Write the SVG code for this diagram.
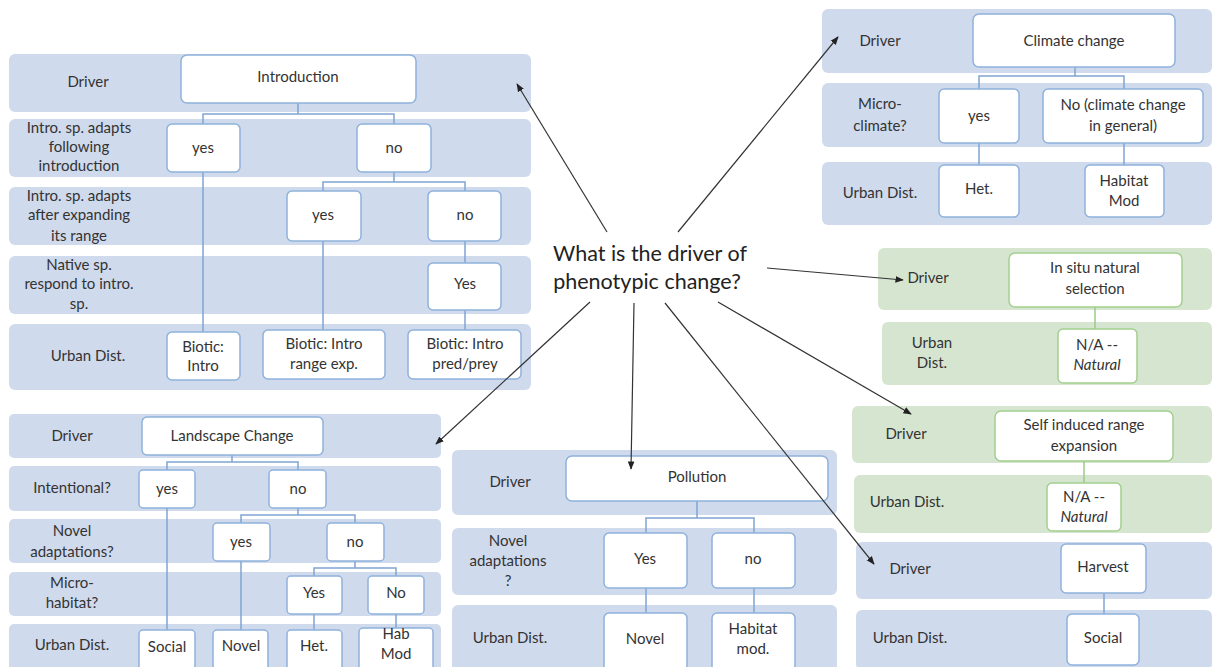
<svg xmlns="http://www.w3.org/2000/svg" width="1212" height="667" viewBox="0 0 1212 667">
<defs>
<style>
.band{fill:#d0daed;}
.gband{fill:#d6e5d0;}
.box{fill:#fff;stroke:#8fb2dc;stroke-width:1.5;}
.gbox{fill:#fff;stroke:#a3d08f;stroke-width:1.5;}
.tree{fill:none;stroke:#7fa5d2;stroke-width:1.5;}
.gtree{fill:none;stroke:#9cc98a;stroke-width:1.5;}
text{font-family:Lato,"Open Sans","Liberation Sans",sans-serif;font-size:15px;fill:#333;text-anchor:middle;}
.big{font-size:21.5px;fill:#222;}
.arr{stroke:#333;stroke-width:1.2;fill:none;marker-end:url(#ah);}
</style>
<marker id="ah" viewBox="0 0 10 10" refX="9" refY="5" markerWidth="7" markerHeight="7" orient="auto"><path d="M0,1 L10,5 L0,9 z" fill="#222"/></marker>
</defs>
<rect width="1212" height="667" fill="#fff"/>

<!-- Introduction block -->
<g id="intro-block">
<rect class="band" x="9" y="54" width="522" height="58" rx="6"/>
<rect class="band" x="9" y="119" width="522" height="58" rx="6"/>
<rect class="band" x="9" y="187" width="522" height="58" rx="6"/>
<rect class="band" x="9" y="256" width="522" height="58" rx="6"/>
<rect class="band" x="9" y="324" width="522" height="66" rx="6"/>
<text x="88" y="87">Driver</text>
<text x="79" y="133">Intro. sp. adapts</text><text x="79" y="152">following</text><text x="79" y="171">introduction</text>
<text x="79" y="201">Intro. sp. adapts</text><text x="79" y="220">after expanding</text><text x="79" y="241">its range</text>
<text x="79" y="270">Native sp.</text><text x="79" y="289">respond to intro.</text><text x="79" y="309">sp.</text>
<text x="88" y="361">Urban Dist.</text>
</g>
<g id="intro-tree">
<path class="tree" d="M298,103 V114 M203,124 V114 H394 V124 M394,172 V182 M323,191 V182 H465 V191 M465,241 V263 M203,172 V332 M323,241 V330 M465,310 V330"/>
</g>
<g id="n-introduction"><rect class="box" x="181" y="55" width="235" height="48" rx="6"/><text x="298" y="82">Introduction</text></g>
<g id="n-intro-yes"><rect class="box" x="167" y="124" width="73" height="48" rx="5"/><text x="203" y="153">yes</text></g>
<g id="n-intro-no"><rect class="box" x="357" y="124" width="74" height="48" rx="5"/><text x="394" y="153">no</text></g>
<g id="n-intro-yes2"><rect class="box" x="287" y="191" width="74" height="50" rx="5"/><text x="323" y="220">yes</text></g>
<g id="n-intro-no2"><rect class="box" x="428" y="191" width="73" height="50" rx="5"/><text x="465" y="220">no</text></g>
<g id="n-intro-yes3"><rect class="box" x="428" y="263" width="73" height="47" rx="5"/><text x="465" y="289">Yes</text></g>
<g id="n-biotic-intro"><rect class="box" x="167" y="332" width="73" height="48" rx="5"/><text x="203" y="352">Biotic:</text><text x="203" y="371">Intro</text></g>
<g id="n-biotic-range"><rect class="box" x="263" y="330" width="122" height="49" rx="5"/><text x="324" y="349">Biotic: Intro</text><text x="324" y="369">range exp.</text></g>
<g id="n-biotic-pred"><rect class="box" x="408" y="330" width="113" height="49" rx="5"/><text x="465" y="349">Biotic: Intro</text><text x="465" y="369">pred/prey</text></g>

<!-- Climate block -->
<g id="climate-block">
<rect class="band" x="822" y="9" width="390" height="64" rx="6"/>
<rect class="band" x="822" y="83" width="390" height="64" rx="6"/>
<rect class="band" x="822" y="162" width="390" height="63" rx="6"/>
<text x="880" y="46">Driver</text>
<text x="880" y="109">Micro-</text><text x="880" y="131">climate?</text>
<text x="880" y="198">Urban Dist.</text>
</g>
<g id="climate-tree"><path class="tree" d="M1075,67 V76 M979,89 V76 H1124 V89 M979,143 V165 M1124,143 V165"/></g>
<g id="n-climate"><rect class="box" x="973" y="14" width="202" height="53" rx="6"/><text x="1074" y="46">Climate change</text></g>
<g id="n-climate-yes"><rect class="box" x="939" y="89" width="80" height="54" rx="5"/><text x="979" y="121">yes</text></g>
<g id="n-climate-no"><rect class="box" x="1043" y="89" width="160" height="54" rx="5"/><text x="1123" y="110">No (climate change</text><text x="1123" y="131">in general)</text></g>
<g id="n-climate-het"><rect class="box" x="939" y="165" width="80" height="52" rx="5"/><text x="979" y="194">Het.</text></g>
<g id="n-climate-hab"><rect class="box" x="1085" y="165" width="79" height="52" rx="5"/><text x="1124" y="186">Habitat</text><text x="1124" y="206">Mod</text></g>

<!-- In situ block -->
<g id="insitu-block">
<rect class="gband" x="878" y="248" width="334" height="62" rx="6"/>
<rect class="gband" x="882" y="322" width="330" height="63" rx="6"/>
<text x="928" y="283">Driver</text>
<text x="932" y="348">Urban</text><text x="932" y="368">Dist.</text>
</g>
<g id="insitu-tree"><path class="gtree" d="M1095,307 V329"/></g>
<g id="n-insitu"><rect class="gbox" x="1009" y="253" width="173" height="54" rx="6"/><text x="1095" y="273">In situ natural</text><text x="1095" y="294">selection</text></g>
<g id="n-insitu-na"><rect class="gbox" x="1058" y="329" width="79" height="54" rx="5"/><text x="1097" y="350">N/A --</text><text x="1097" y="370" font-style="italic">Natural</text></g>

<!-- Self induced block -->
<g id="self-block">
<rect class="gband" x="852" y="406" width="360" height="57" rx="6"/>
<rect class="gband" x="854" y="475" width="358" height="58" rx="6"/>
<text x="906" y="439">Driver</text>
<text x="907" y="507">Urban Dist.</text>
</g>
<g id="self-tree"><path class="gtree" d="M1084,461 V483"/></g>
<g id="n-self"><rect class="gbox" x="995" y="411" width="178" height="50" rx="6"/><text x="1084" y="430">Self induced range</text><text x="1084" y="451">expansion</text></g>
<g id="n-self-na"><rect class="gbox" x="1047" y="483" width="74" height="48" rx="5"/><text x="1084" y="502">N/A --</text><text x="1084" y="522" font-style="italic">Natural</text></g>

<!-- Harvest block -->
<g id="harvest-block">
<rect class="band" x="856" y="542" width="356" height="57" rx="6"/>
<rect class="band" x="856" y="610" width="356" height="60" rx="6"/>
<text x="910" y="574">Driver</text>
<text x="910" y="643">Urban Dist.</text>
</g>
<g id="harvest-tree"><path class="tree" d="M1104,593 V614"/></g>
<g id="n-harvest"><rect class="box" x="1061" y="544" width="85" height="49" rx="5"/><text x="1103" y="572">Harvest</text></g>
<g id="n-harvest-social"><rect class="box" x="1067" y="614" width="72" height="51" rx="5"/><text x="1103" y="643">Social</text></g>

<!-- Landscape block -->
<g id="landscape-block">
<rect class="band" x="9" y="414" width="432" height="44" rx="5"/>
<rect class="band" x="9" y="466" width="432" height="45" rx="5"/>
<rect class="band" x="9" y="519" width="432" height="44" rx="5"/>
<rect class="band" x="9" y="572" width="432" height="44" rx="5"/>
<rect class="band" x="9" y="624" width="432" height="50" rx="5"/>
<text x="72" y="441">Driver</text>
<text x="72" y="493">Intentional?</text>
<text x="72" y="536">Novel</text><text x="72" y="557">adaptations?</text>
<text x="72" y="588">Micro-</text><text x="72" y="608">habitat?</text>
<text x="72" y="650">Urban Dist.</text>
</g>
<g id="landscape-tree"><path class="tree" d="M232,455 V462 M167,470 V462 H298 V470 M298,508 V515 M241,523 V515 H355 V523 M355,561 V568 M314,576 V568 H396 V576 M167,508 V630 M241,561 V630 M314,614 V630 M396,614 V628"/></g>
<g id="n-landscape"><rect class="box" x="142" y="417" width="181" height="38" rx="5"/><text x="232" y="441">Landscape Change</text></g>
<g id="n-ls-yes"><rect class="box" x="139" y="470" width="56" height="38" rx="4"/><text x="167" y="494">yes</text></g>
<g id="n-ls-no"><rect class="box" x="269" y="470" width="57" height="38" rx="4"/><text x="298" y="494">no</text></g>
<g id="n-ls-yes2"><rect class="box" x="213" y="523" width="57" height="38" rx="4"/><text x="241" y="547">yes</text></g>
<g id="n-ls-no2"><rect class="box" x="327" y="523" width="57" height="38" rx="4"/><text x="355" y="547">no</text></g>
<g id="n-ls-yes3"><rect class="box" x="287" y="576" width="55" height="38" rx="4"/><text x="314" y="598">Yes</text></g>
<g id="n-ls-no3"><rect class="box" x="368" y="576" width="56" height="38" rx="4"/><text x="396" y="598">No</text></g>
<g id="n-ls-social"><rect class="box" x="139" y="630" width="56" height="42" rx="4"/><text x="167" y="652">Social</text></g>
<g id="n-ls-novel"><rect class="box" x="213" y="630" width="55" height="42" rx="4"/><text x="241" y="651">Novel</text></g>
<g id="n-ls-het"><rect class="box" x="287" y="630" width="55" height="42" rx="4"/><text x="314" y="651">Het.</text></g>
<g id="n-ls-hab"><rect class="box" x="359" y="628" width="74" height="44" rx="4"/><text x="396" y="639">Hab</text><text x="396" y="659">Mod</text></g>

<!-- Pollution block -->
<g id="pollution-block">
<rect class="band" x="452" y="450" width="385" height="65" rx="6"/>
<rect class="band" x="452" y="528" width="385" height="67" rx="6"/>
<rect class="band" x="452" y="605" width="385" height="70" rx="6"/>
<text x="510" y="487">Driver</text>
<text x="508" y="546">Novel</text><text x="508" y="566">adaptations</text><text x="508" y="586">?</text>
<text x="510" y="643">Urban Dist.</text>
</g>
<g id="pollution-tree"><path class="tree" d="M697,501 V518 M646,533 V518 H754 V533 M646,588 V613 M754,588 V613"/></g>
<g id="n-pollution"><rect class="box" x="566" y="456" width="262" height="45" rx="6"/><text x="697" y="482">Pollution</text></g>
<g id="n-pol-yes"><rect class="box" x="604" y="533" width="83" height="55" rx="5"/><text x="645" y="564">Yes</text></g>
<g id="n-pol-no"><rect class="box" x="712" y="533" width="83" height="55" rx="5"/><text x="753" y="564">no</text></g>
<g id="n-pol-novel"><rect class="box" x="604" y="613" width="83" height="60" rx="5"/><text x="645" y="644">Novel</text></g>
<g id="n-pol-hab"><rect class="box" x="712" y="613" width="83" height="60" rx="5"/><text x="753" y="634">Habitat</text><text x="753" y="654">mod.</text></g>

<!-- Center question -->
<g id="n-question">
<text class="big" x="650" y="261">What is the driver of</text>
<text class="big" x="647" y="289">phenotypic change?</text>
</g>

<!-- Connectors -->
<g id="connectors">
<line class="arr" x1="607" y1="232" x2="517" y2="84"/>
<line class="arr" x1="678" y1="232" x2="838" y2="37"/>
<line class="arr" x1="767" y1="268" x2="903" y2="280"/>
<line class="arr" x1="590" y1="302" x2="436" y2="444"/>
<line class="arr" x1="634" y1="303" x2="631" y2="469"/>
<line class="arr" x1="718" y1="302" x2="911" y2="414"/>
<line class="arr" x1="665" y1="303" x2="874" y2="564"/>
</g>
</svg>
